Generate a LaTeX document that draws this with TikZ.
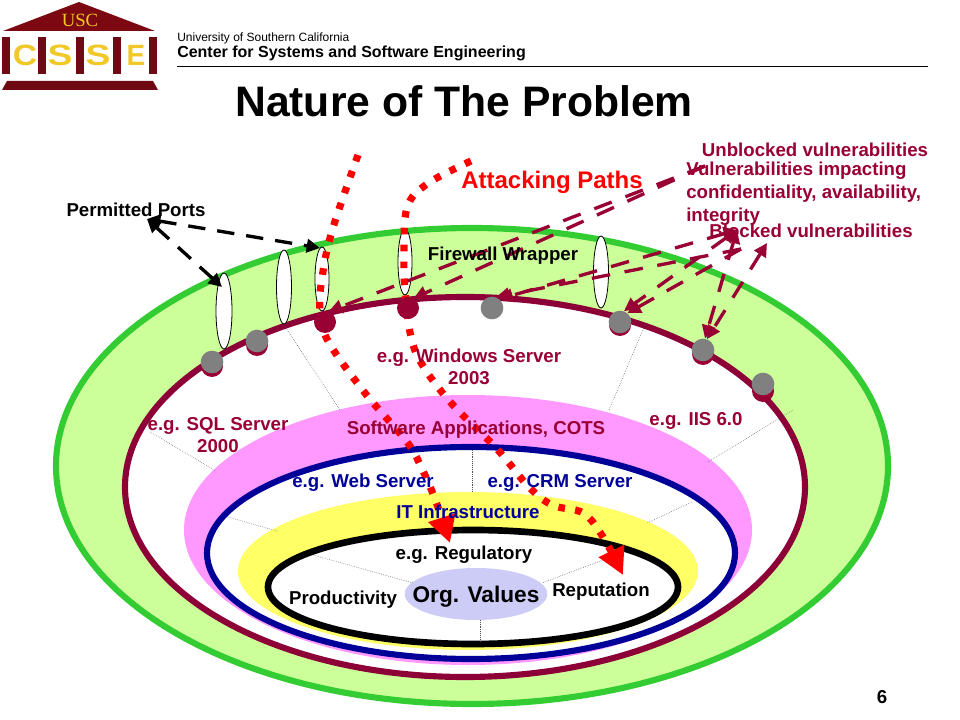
\documentclass[tikz,border=0pt]{standalone}
\usepackage{fontspec}
\setmainfont{Liberation Sans}
\newfontfamily\logoserif{Liberation Serif}
\usepackage{xcolor}
\usepackage{tikz}
\usetikzlibrary{arrows.meta,positioning,shapes.geometric}
\definecolor{ring_green}{RGB}{51,204,51}
\definecolor{band_green}{RGB}{204,255,153}
\definecolor{csse_maroon}{RGB}{153,0,51}
\definecolor{ring_maroon}{RGB}{140,0,55}
\definecolor{band_pink}{RGB}{255,153,255}
\definecolor{ring_blue}{RGB}{0,0,153}
\definecolor{band_yellow}{RGB}{255,255,102}
\definecolor{org_lilac}{RGB}{204,204,247}
\definecolor{logo_gold}{RGB}{240,200,40}
\definecolor{logo_dark}{RGB}{110,10,20}
\tikzset{
  lbl/.style={font=\fontsize{14}{17}\selectfont\bfseries, inner sep=0pt, align=center},
  redlbl/.style={lbl, text=csse_maroon},
  bluelbl/.style={lbl, text=ring_blue},
  spoke/.style={black!70, densely dotted, line width=0.4pt},
  portoval/.style={draw=black, fill=white, line width=0.6pt},
  hitdot/.style={circle, fill=csse_maroon, minimum size=16.5pt, inner sep=0pt},
  safedot/.style={circle, fill=gray, minimum size=17pt, inner sep=0pt},
  attackpath/.style={red, line width=5.4pt, dash pattern=on 5pt off 7.7pt,
    -{Triangle[length=20pt,width=20pt]}},
  vulnline/.style={csse_maroon, line width=2.5pt, dash pattern=on 14pt off 11pt,
    -{Triangle[length=10pt,width=10pt]}},
  vulnpath/.style={vulnline, {Triangle[length=10pt,width=10pt]}-{Triangle[length=10pt,width=10pt]}},
  portpath/.style={black, line width=2.5pt, dash pattern=on 13pt off 9pt,
    {Triangle[length=10pt,width=10pt]}-{Triangle[length=10pt,width=10pt]}},
  logoletter/.style={font=\fontsize{22}{22}\selectfont\bfseries, text=logo_gold, inner sep=0pt}
}
\begin{document}
\begin{tikzpicture}[x=0.75pt, y=-0.75pt]
  \useasboundingbox (0,0) rectangle (960,720);
  % logo
  \fill[logo_dark!90!red] (3,31) -- (79,2) -- (155,31) -- cycle;
  \node[font=\logoserif\fontsize{14}{14}\selectfont, text=logo_gold, inner sep=0pt] (logousc) at (80,20) {USC};
  \foreach \colx in {2,38,76,113,149}
    \fill[logo_dark] (\colx,37) rectangle (\colx+8,74);
  \fill[logo_dark] (7,81) -- (153,81) -- (158,90) -- (2,90) -- cycle;
  \node[logoletter] (logoc) at (25,55) {\scalebox{1.15}[1]{C}};
  \node[logoletter] (logos) at (60,55) {\scalebox{1.27}[1]{S}};
  \node[logoletter] (logot) at (98,55) {\scalebox{1.27}[1]{S}};
  \node[logoletter] (logoe) at (136,55) {\scalebox{0.95}[1]{E}};
  % header
  \node[font=\fontsize{9}{10}\selectfont, inner sep=0pt, anchor=west] (univ) at (177,38) {University of Southern California};
  \node[font=\fontsize{12}{14}\selectfont\bfseries, inner sep=0pt, anchor=west] (center) at (177,53) {Center for Systems and Software Engineering};
  \draw[line width=0.7pt] (177,66) -- (928,66);
  \node[font=\fontsize{32}{36}\selectfont\bfseries, inner sep=0pt] (title) at (464,101) {Nature of The Problem};
  % nested rings
  \draw[fill=band_green, draw=ring_green, line width=4.6pt] (472,466) ellipse [x radius=416, y radius=238];
  \draw[fill=white, draw=ring_maroon, line width=4.6pt] (465,487) ellipse [x radius=340, y radius=190];
  \fill[band_pink] (468,530) ellipse [x radius=284, y radius=135];
  \draw[fill=white, draw=ring_blue, line width=4.6pt] (471,553) ellipse [x radius=264, y radius=106];
  \fill[band_yellow] (468,571) ellipse [x radius=230, y radius=79];
  \draw[fill=white, draw=black, line width=5pt] (473,587) ellipse [x radius=205, y radius=57];
  \node[ellipse, fill=org_lilac, minimum width=107pt, minimum height=39pt, inner sep=0pt] (orgoval) at (476,594) {};
  % spokes
  \draw[spoke] (284,325) -- (340,410);
  \draw[spoke] (645,325) -- (609,410);
  \draw[spoke] (150,432) -- (216,471);
  \draw[spoke] (793,410) -- (708,462);
  \draw[spoke] (472,450) -- (472,492);
  \draw[spoke] (228,517) -- (277,531);
  \draw[spoke] (692,502) -- (647,523);
  \draw[spoke] (313,555) -- (413,583);
  \draw[spoke] (603,560) -- (542,583);
  \draw[spoke] (480,620) -- (480,642);
  % ports
  \foreach \px/\py/\prx/\pry in {224/311/8/38, 284/287/7.5/37, 322/279/7/32, 405/262/7/33, 601/272/7.5/36}
    \draw[portoval] (\px,\py) ellipse [x radius=\prx, y radius=\pry];
  % attacking paths
  \coordinate (pathastart) at (358,155);
  \coordinate (pathaend) at (450,543);
  \coordinate (pathbstart) at (471,161);
  \coordinate (pathbend) at (623,575);
  \draw[attackpath] plot[smooth, tension=0.6] coordinates {(pathastart) (332,231) (322,278) (320,310) (328,341) (365,393) (407,442) (422,469) (435,499) (pathaend)};
  \draw[attackpath] plot[smooth, tension=0.6] coordinates {(pathbstart) (427,184) (407,208) (404,257) (405,290) (411,337) (423,366) (452,404) (497,449) (528,486) (552,505) (583,513) (603,537) (pathbend)};
  % vulnerability dots
  \foreach \dotx/\doty/\shift/\dotname in {212/362/4/dota, 257/341/4/dotb, 620/322/3/dotf, 703/350/4/dotg, 763/384/7/doth}{
    \node[hitdot] at (\dotx,\doty+\shift) {};
    \node[safedot] (\dotname) at (\dotx,\doty) {};
  }
  \node[hitdot] (dotc) at (325,322) {};
  \node[hitdot] (dotd) at (408,308) {};
  \node[safedot] (dote) at (492,308) {};
  % dashed arrows
  \coordinate (unblocked) at (705,166);
  \coordinate (blockeda) at (737,230);
  \coordinate (blockedb) at (741,249);
  \coordinate (blockedc) at (767,243);
  \coordinate (portsend) at (147,219);
  \coordinate (portb) at (320,248);
  \coordinate (porta) at (222,287);
  \draw[vulnline] (unblocked) -- (dotc.70);
  \draw[vulnline] (unblocked) -- (dotd.60);
  \draw[vulnpath] (blockeda) -- (dote.50);
  \draw[vulnline] (blockedb) -- (dote.70);
  \draw[vulnpath] (blockeda) -- (dotf.70);
  \draw[vulnline] (blockedb) -- (dotf.50);
  \draw[vulnpath] (blockeda) -- (dotg.80);
  \draw[vulnpath] (blockedc) -- (dotg.70);
  \draw[portpath] (portsend) -- (porta);
  \draw[portpath] (portsend) -- (portb);
  % labels
  \node[lbl] (permitted) at (136,210) {Permitted Ports};
  \node[lbl, text=red, font=\fontsize{18}{21}\selectfont\bfseries] (attacking) at (552,182) {Attacking Paths};
  \node[redlbl] (unblockedlbl) at (815,150) {Unblocked vulnerabilities};
  \node[redlbl, align=left, anchor=north west] (impactlbl) at (686,162) {Vulnerabilities impacting\\confidentiality, availability,\\integrity};
  \node[redlbl] (blockedlbl) at (811,231) {Blocked vulnerabilities};
  \node[lbl] (firewall) at (503,256) {Firewall Wrapper};
  \node[redlbl] (windows) at (469,367) {e.g. Windows Server\\2003};
  \node[redlbl] (sqlsrv) at (218,435) {e.g. SQL Server\\2000};
  \node[redlbl] (iis) at (696,421) {e.g. IIS 6.0};
  \node[redlbl] (software) at (476,430) {Software Applications, COTS};
  \node[bluelbl] (websrv) at (363,483) {e.g. Web Server};
  \node[bluelbl] (crmsrv) at (560,483) {e.g. CRM Server};
  \node[bluelbl] (itinfra) at (468,512) {IT Infrastructure};
  \node[lbl] (regulatory) at (464,555) {e.g. Regulatory};
  \node[lbl] (productivity) at (343,600) {Productivity};
  \node[lbl, font=\fontsize{17}{20}\selectfont\bfseries] (orgvalues) at (476,597) {Org. Values};
  \node[lbl] (reputation) at (601,592) {Reputation};
  \node[lbl] (pagenum) at (882,697) {6};
\end{tikzpicture}
\end{document}
